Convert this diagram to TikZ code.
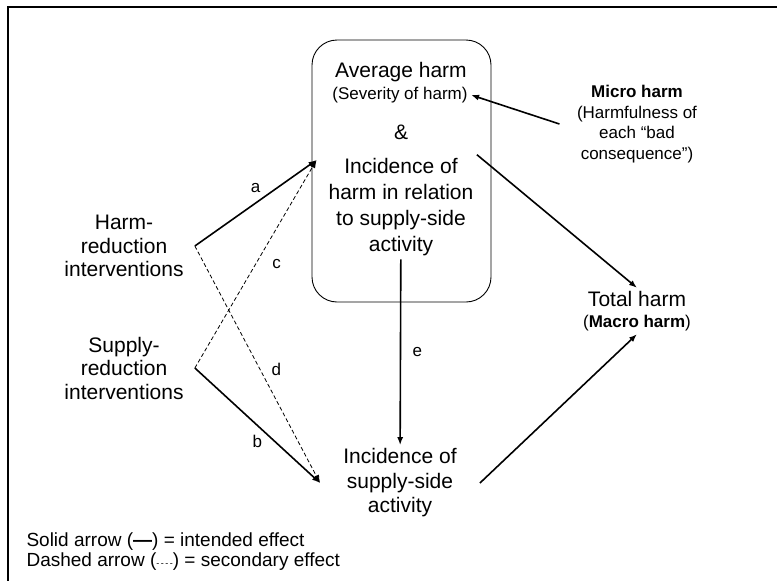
\documentclass[tikz,border=0pt]{standalone}
\usepackage{fontspec}
\setmainfont{Liberation Sans}
\usepackage{tikz}
\usetikzlibrary{arrows.meta, shapes}

\newcommand{\bigtxt}{\fontsize{21}{26}\selectfont}
\newcommand{\sidetxt}{\fontsize{21}{23.5}\selectfont}
\newcommand{\smalltxt}{\fontsize{17}{20.5}\selectfont}
\newcommand{\keytxt}{\fontsize{19}{20}\selectfont}

\tikzset{second/.style={line width=0.8pt, dash pattern=on 4pt off 2.5pt}}

\begin{document}
\begin{tikzpicture}[x=1pt,y=-1pt]
\useasboundingbox (0,0) rectangle (777,581);
\draw[line width=2.5pt] (777,7) -| (8,581);

\node[draw, line width=0.9pt, rounded corners=25pt, minimum width=179pt, minimum height=262pt] (core) at (401.5,171) {};

\begin{scope}[every node/.style={align=center}]
  \node[font=\bigtxt] (avg) at (401,72) {Average harm};
  \node[font=\smalltxt] (sev) at (400,95) {(Severity of harm)};
  \node[font=\bigtxt] (amp) at (401,132) {\&};
  \node[font=\bigtxt] (inc) at (401,207) {Incidence of\\harm in relation\\to supply-side\\activity};
  \node[font=\sidetxt, outer xsep=8pt] (hri) at (124,246) {Harm-\\reduction\\interventions};
  \node[font=\sidetxt, outer xsep=8pt] (sri) at (124,368) {Supply-\\reduction\\interventions};
  \node[font=\fontsize{21}{24.5}\selectfont, outer xsep=20pt] (sup) at (400,483) {Incidence of\\supply-side\\activity};
  \node[font=\smalltxt] (micro) at (637,124) {\textbf{Micro harm}\\(Harmfulness of\\each “bad\\consequence”)};
  \node[font=\smalltxt] (total) at (637,311) {{\bigtxt Total harm}\\(\textbf{Macro harm})};
\end{scope}

\begin{scope}[>={Latex[length=8pt,width=6pt]},
              every node/.style={font=\smalltxt},
              every edge/.style={draw=black, line width=1.6pt}]
    \path[->] (hri.east) edge node[above=6pt] {a} ([xshift=5pt,yshift=11pt]core.west);
    \path[->] (sri.east) edge node[below=6pt] {b} (sup.west);
    \path[->] (sri.east) edge[second] node[right=13pt] {c} ([xshift=5pt,yshift=11pt]core.west);
    \path[->] (hri.east) edge[second] node[pos=.52, right=8pt] {d} (sup.west);
    \path[->] (inc) edge node[right=8pt] {e} (sup);
    \path[->] ([xshift=-14pt]micro.west) edge (sev.east);
    \path[->] (inc.north east) edge (total.north);
    \path[->] (sup.east) edge (total.south);
\end{scope}

\node[anchor=west, font=\keytxt] (key1) at (23,542) {Solid arrow (\textbf{—}) = intended effect};
\node[anchor=west, font=\keytxt] (key2) at (23,562) {Dashed arrow ({\fontsize{9}{9}\selectfont -\,-\,-\,-}) = secondary effect};

\end{tikzpicture}
\end{document}
